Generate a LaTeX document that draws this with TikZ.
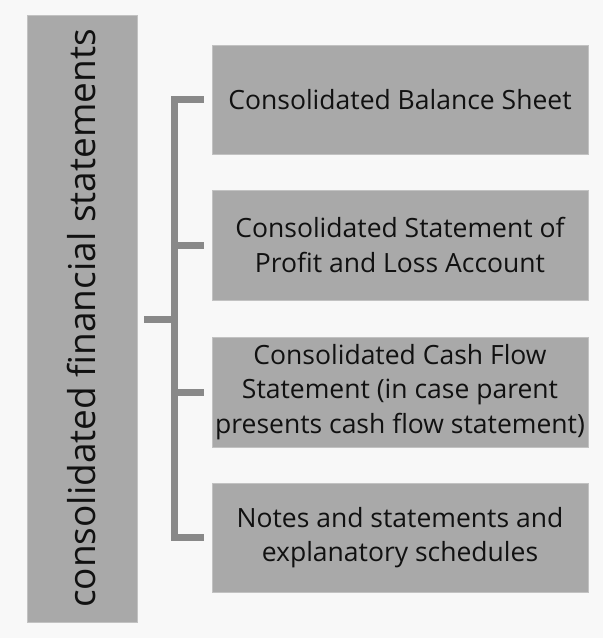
\documentclass[tikz,border=0pt]{standalone}
\usepackage{fontspec}
\setmainfont{Open Sans}
\definecolor{bg}{HTML}{F8F8F8}
\definecolor{boxfill}{HTML}{A9A9A9}
\definecolor{boxedge}{HTML}{C2C2C2}
\definecolor{bracketgray}{HTML}{898989}
\definecolor{ink}{HTML}{111111}
\tikzset{
  panel/.style={fill=boxfill, draw=boxedge, line width=0.8pt, inner sep=0pt,
    text=ink, align=center},
  itembox/.style={panel, minimum width=376pt,
    font=\fontsize{26.5}{34.5}\selectfont},
  bracketline/.style={draw=bracketgray, line width=7pt, line join=miter},
}
\begin{document}
\begin{tikzpicture}[x=1pt, y=-1pt]
  % canvas
  \fill[bg] (0,0) rectangle (603,638);
  \useasboundingbox (0,0) rectangle (603,638);

  % vertical title panel (sizes given before the rotation)
  \node[panel, minimum width=607pt, minimum height=110pt, rotate=90,
        font=\fontsize{37}{44}\selectfont] (title) at (82,318.5)
        {consolidated financial statements};

  % the four statements
  \node[itembox, minimum height=109pt] (bs) at (400,99.5)
        {Consolidated Balance Sheet};
  \node[itembox, minimum height=110pt] (pl) at (400,245)
        {Consolidated Statement of\\Profit and Loss Account};
  \node[itembox, minimum height=110pt] (cf) at (400,392)
        {Consolidated Cash Flow\\Statement (in case parent\\presents cash flow statement)};
  \node[itembox, minimum height=109pt] (notes) at (400,537.5)
        {Notes and statements and\\explanatory schedules};

  % bracket spine
  \coordinate (spine) at (174,319);
  \coordinate (stem) at (144,319);
  \draw[bracketline] ([xshift=-8pt]bs.west) -| (spine |- notes.west)
        -- ([xshift=-8pt]notes.west);
  \draw[bracketline] (spine |- pl.west) -- ([xshift=-8pt]pl.west);
  \draw[bracketline] (spine |- cf.west) -- ([xshift=-8pt]cf.west);
  \draw[bracketline] (stem) -- (spine);
\end{tikzpicture}
\end{document}
